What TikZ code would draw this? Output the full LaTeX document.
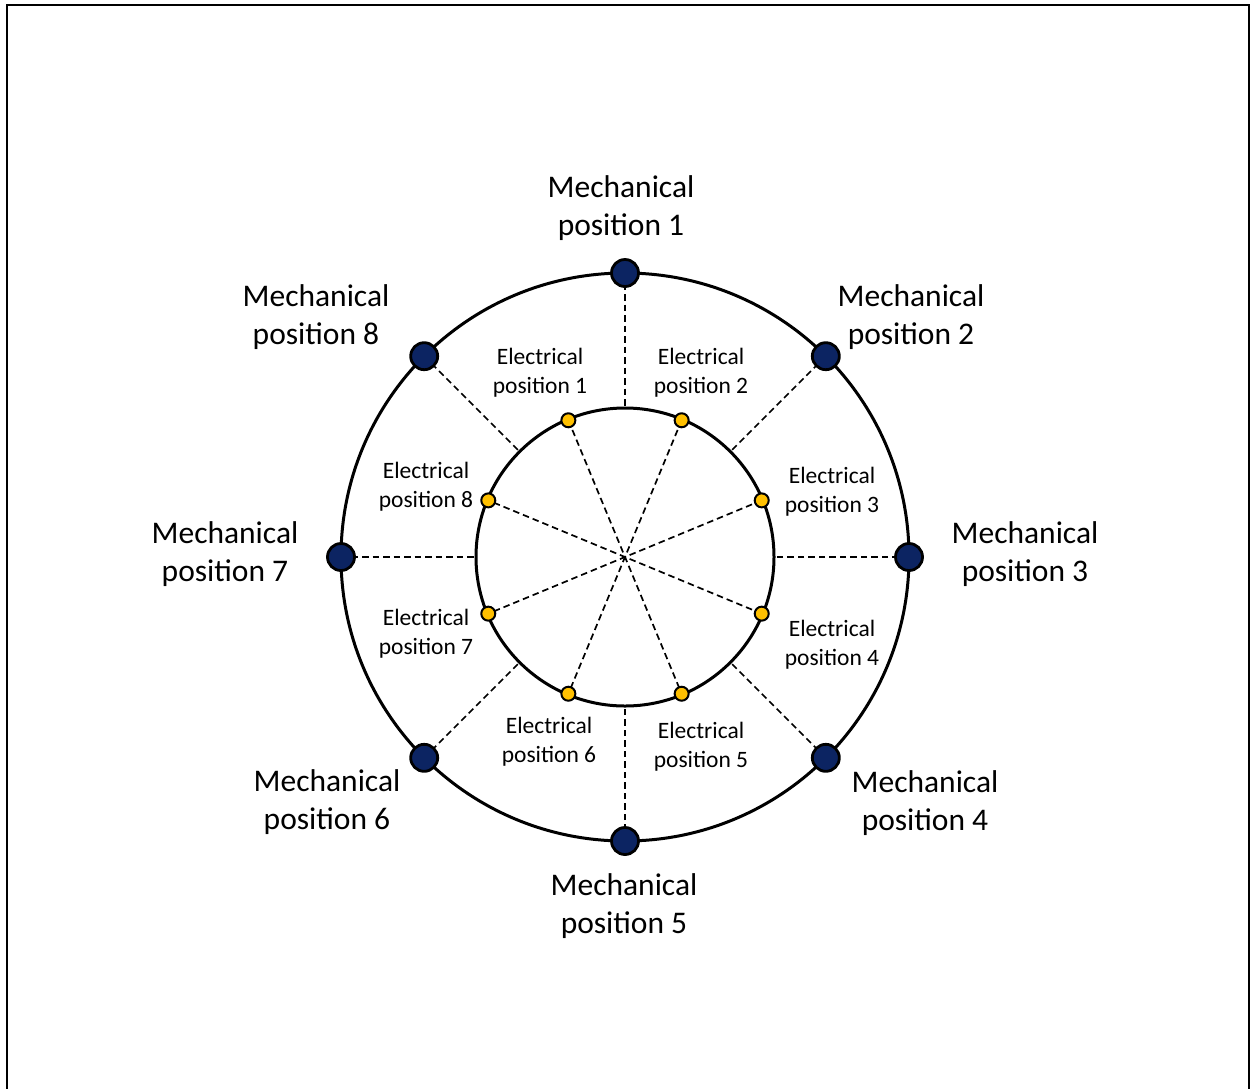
\documentclass[tikz,border=0pt]{standalone}
\usepackage{fontspec}
\setmainfont{Carlito}
\usetikzlibrary{calc}
\begin{document}
\begin{tikzpicture}[x=1pt,y=-1pt,
  ring/.style={line width=3pt},
  ray/.style={line width=1.7pt, dash pattern=on 6.5pt off 4pt},
  mdot/.style={circle, draw=black, line width=2.8pt, fill=navy, minimum size=27pt, inner sep=0pt},
  edot/.style={circle, draw=black, line width=2pt, fill=gold, minimum size=14pt, inner sep=0pt},
  mlab/.style={align=center, font=\fontsize{31.5}{38}\selectfont, inner sep=0pt},
  elab/.style={align=center, font=\fontsize{23.5}{29}\selectfont, inner sep=0pt},
  frame/.style={line width=2pt}]
\definecolor{navy}{HTML}{0C2462}
\definecolor{gold}{HTML}{FFC000}
\useasboundingbox (0,0) rectangle (1250,1088);
\coordinate (c) at (625,557);
\coordinate (f1) at (6.5,1100);
\coordinate (f2) at (6.5,5);
\coordinate (f3) at (1249,5);
\coordinate (f4) at (1249,1100);
\draw[frame] (f1) -- (f2) -- (f3) -- (f4);
\draw[ring] (c) circle[radius=284];
\draw[ring] (c) circle[radius=149];
% electrical dots
\foreach \i/\a in {1/112.5,2/67.5,3/22.5,4/-22.5,5/-67.5,6/-112.5,7/-157.5,8/157.5}{
  \coordinate (ep\i) at ($(c)+({148*cos(\a)},{-148*sin(\a)})$);
}
% mechanical positions
\foreach \i/\a in {1/90,2/45,3/0,4/-45,5/-90,6/-135,7/180,8/135}{
  \coordinate (mp\i) at ($(c)+({284*cos(\a)},{-284*sin(\a)})$);
  \coordinate (mi\i) at ($(c)+({149*cos(\a)},{-149*sin(\a)})$);
}
\foreach \i/\j in {1/5,2/6,3/7,4/8}{
  \draw[ray] (ep\i) -- (ep\j);
}
\foreach \i in {1,...,8}{
  \draw[ray] (mp\i) -- (mi\i);
  \node[mdot] (m\i) at (mp\i) {};
  \node[edot] (e\i) at (ep\i) {};
}
\node[mlab] (lm1) at (621,208) {Mechanical\\position 1};
\node[mlab] (lm2) at (911,317) {Mechanical\\position 2};
\node[mlab] (lm3) at (1025,554) {Mechanical\\position 3};
\node[mlab] (lm4) at (925,803) {Mechanical\\position 4};
\node[mlab] (lm5) at (624,906) {Mechanical\\position 5};
\node[mlab] (lm6) at (327,802) {Mechanical\\position 6};
\node[mlab] (lm7) at (225,554) {Mechanical\\position 7};
\node[mlab] (lm8) at (316,317) {Mechanical\\position 8};
\node[elab] (le1) at (540,373) {Electrical\\position 1};
\node[elab] (le2) at (701,373) {Electrical\\position 2};
\node[elab] (le3) at (832,492) {Electrical\\position 3};
\node[elab] (le4) at (832,645) {Electrical\\position 4};
\node[elab] (le5) at (701,747) {Electrical\\position 5};
\node[elab] (le6) at (549,742) {Electrical\\position 6};
\node[elab] (le7) at (426,634) {Electrical\\position 7};
\node[elab] (le8) at (426,487) {Electrical\\position 8};
\end{tikzpicture}
\end{document}
